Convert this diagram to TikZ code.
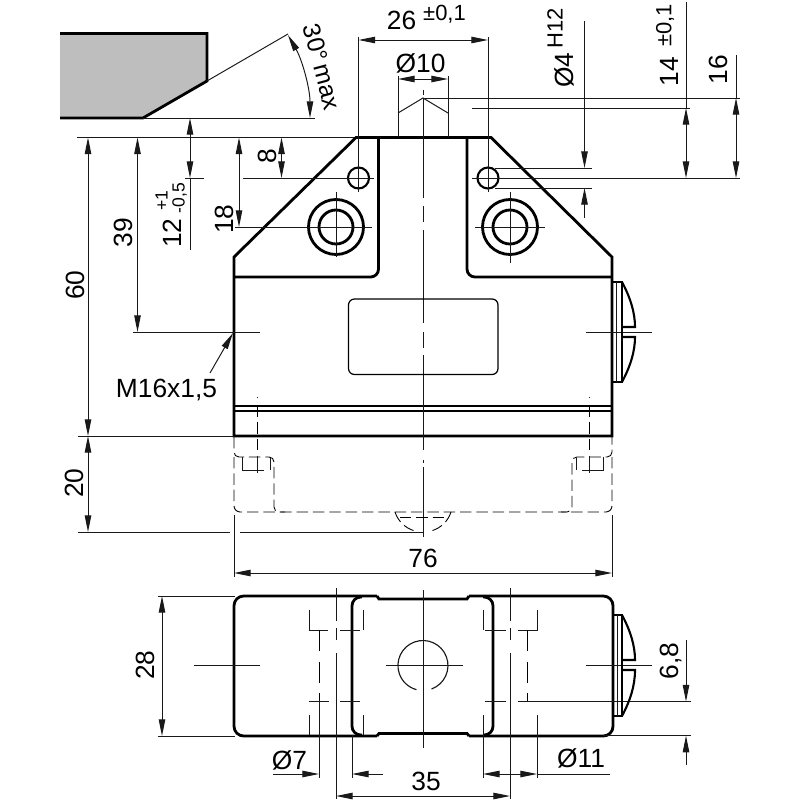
\documentclass[tikz,border=0pt]{standalone}
\usepackage{fontspec}
\setmainfont{Liberation Sans}
\usetikzlibrary{arrows.meta}
\definecolor{wedgegray}{HTML}{BEBEBE}

\begin{document}
\begin{tikzpicture}[x=0.02cm,y=-0.02cm,>={Triangle[length=9.5pt,width=3.7pt]}]
\tikzstyle{every node}+=[inner sep=0pt,font=\fontsize{15}{15}\selectfont]
\tikzstyle{heavy}=[black,line width=1.6pt]
\tikzstyle{outline}=[black,line width=1.2pt]
\tikzstyle{fine}=[black!90,line width=0.55pt]
\tikzstyle{ghost}=[black,line width=0.5pt,dash pattern=on 6.5pt off 2.8pt]
\tikzstyle{longghost}=[black,line width=0.55pt,dash pattern=on 12pt off 6pt]
\tikzstyle{small}=[font=\fontsize{12.5}{12.5}\selectfont]
\tikzstyle{tiny}=[font=\fontsize{10}{10}\selectfont]
\useasboundingbox (0,0) rectangle (800,800);
\fill [wedgegray] (60,33.5) -- (207,33.5) -- (207,81) -- (143,118) -- (60,118) -- cycle;
\draw [heavy] (60,33.5) -- (207,33.5) -- (207,81) -- (143,118) -- (60,118);
\draw [fine] (207,81) -- (288,34);
\draw [fine] (143,118) -- (315,118);
\draw [fine,<->] (310,118) arc (0:-29.8:167);
\node [rotate=-75,font=\fontsize{14}{14}\selectfont] (maxangle) at (322,67) {30°\,max};
\draw [fine] (77,137.5) -- (356,137.5);
\draw [heavy] (234,436) -- (234,257) -- (356,137.5) -- (491,137.5) -- (612,257) -- (612,436) -- cycle;
\draw [heavy,rounded corners=4.5pt] (378.5,137.5) -- (378.5,277) -- (234,277);
\draw [heavy,rounded corners=4.5pt] (467,137.5) -- (467,277) -- (612,277);
\draw [outline] (234,406) -- (612,406);
\draw [outline] (234,411) -- (612,411);
\draw [fine] (398,137) -- (398,76);
\draw [fine] (448,137) -- (448,76);
\draw [fine] (398,113) -- (423,98) -- (448,113);
\draw [fine,<->] (398,79) -- (448,79);
\node (pindia) at (420.5,63) {Ø10};
\draw [fine] (423,90) -- (423,95);
\draw [fine] (423,98) -- (423,198);
\draw [fine] (423,206) -- (423,222);
\draw [fine] (423,230) -- (423,323);
\draw [fine] (423,332) -- (423,348);
\draw [fine] (423,355) -- (423,450);
\draw [fine] (423,460) -- (423,463);
\draw [fine] (423,467) -- (423,537);
\draw [outline] (358.5,178) circle (10.5);
\draw [outline] (488,178) circle (10.5);
\draw [heavy] (336,227) circle (27.5);
\draw [heavy] (336,227) circle (17);
\draw [heavy] (510,227) circle (27.5);
\draw [heavy] (510,227) circle (17);
\draw [fine] (243,178) -- (374,178);
\draw [fine] (185,178) -- (204,178);
\draw [fine] (358.5,37) -- (358.5,192);
\draw [fine] (488,37) -- (488,192);
\draw [fine] (472,178) -- (740,178);
\draw [fine] (235,227) -- (372,227);
\draw [fine] (336,192) -- (336,257);
\draw [fine] (475,227) -- (545,227);
\draw [fine] (510,192) -- (510,263);
\draw [fine,<->] (358.5,40) -- (488,40);
\node (widthval) at (401.5,20.5) {26};
\node [small] (widthtol) at (444.5,14.5) {±0,1};
\draw [fine] (423,98) -- (740,98);
\draw [fine] (472,108) -- (690,108);
\draw [fine] (495,168) -- (592,168);
\draw [fine] (495,188) -- (592,188);
\draw [fine,->] (584.5,21) -- (584.5,168);
\draw [fine,->] (584.5,218) -- (584.5,188);
\node [rotate=90] (holedia) at (564,70) {Ø4};
\node [rotate=90,small] (holetol) at (555,28) {H12};
\draw [fine] (686,2) -- (686,108);
\draw [fine,<->] (686,108) -- (686,178);
\node [rotate=90] (pitchval) at (669,71.5) {14};
\node [rotate=90,small] (pitchtol) at (665,25.5) {±0,1};
\draw [fine] (736,55) -- (736,98);
\draw [fine,<->] (736,98) -- (736,178);
\node [rotate=90] (pinheight) at (718,69.5) {16};
\draw [fine,<->] (88,137.5) -- (88,436);
\node [rotate=90] (totalheight) at (75,285) {60};
\draw [fine] (78,436) -- (234,436);
\draw [fine,<->] (88,436) -- (88,532);
\node [rotate=90] (lowerheight) at (74,483) {20};
\draw [fine] (78,532) -- (230,532);
\draw [fine] (240,532) -- (423,532);
\draw [fine,<->] (137.5,137.5) -- (137.5,332);
\node [rotate=90] (conduit) at (123,232.5) {39};
\draw [fine] (133,332) -- (260,332);
\draw [fine] (586,332) -- (652,332);
\draw [fine,->] (190,137.5) -- (190,118);
\draw [fine,->] (190,137.5) -- (190,178);
\draw [fine] (190,178) -- (190,250);
\node [rotate=90] (rampval) at (172,233) {12};
\node [rotate=90,tiny] (rampup) at (161.5,200.5) {+1};
\node [rotate=90,tiny] (rampdown) at (179.5,198) {-0,5};
\draw [fine,<->] (239,137.5) -- (239,227);
\node [rotate=90] (mountrow) at (224,219) {18};
\draw [fine,<->] (281.5,137.5) -- (281.5,178);
\node [rotate=90] (holerow) at (267,156.5) {8};
\draw [black,line width=0.7pt,rounded corners=3.4pt] (348.5,299) rectangle (498,374.5);
\draw [fine,<-] (233,333) -- (210,373);
\node (thread) at (166.5,390) {M16x1,5};
\draw [outline] (612,282) -- (622,282) -- (622,382) -- (612,382);
\draw [fine] (616.5,282) -- (616.5,382);
\draw [outline] (622,282) .. controls (630,297) and (635,312) .. (635,327) -- (622,327);
\draw [outline] (622,382) .. controls (630,367) and (635,352) .. (635,337) -- (622,337);
\draw [ghost,rounded corners=2.8pt] (234,437) -- (234,457) -- (274,457) -- (274,512) -- (572,512) -- (572,457) -- (612,457) -- (612,437);
\draw [ghost,rounded corners=3.5pt] (234,457) -- (234,512) -- (285,512);
\draw [ghost,rounded corners=3.5pt] (612,457) -- (612,512) -- (561,512);
\draw [fine] (242.5,457) -- (242.5,470) -- (264,470);
\draw [fine] (270.5,458) -- (270.5,470);
\draw [fine] (603.5,457) -- (603.5,470) -- (582,470);
\draw [fine] (576,458) -- (576,470);
\draw [fine] (257,397) -- (257,398);
\draw [ghost] (257,406) -- (257,453);
\draw [fine] (257,456) -- (257,473);
\draw [fine] (589,397) -- (589,398);
\draw [ghost] (589,406) -- (589,453);
\draw [fine] (589,456) -- (589,473);
\draw [ghost] (395,512) arc (162:108:28.9);
\draw [ghost] (451,512) arc (18:72:28.9);
\draw [ghost] (400,517) -- (448,517);
\draw [fine] (234,515) -- (234,577);
\draw [fine] (612,515) -- (612,577);
\draw [fine,<->] (234,573) -- (612,573);
\node (lengthval) at (423,558) {76};
\draw [heavy,rounded corners=5.5pt] (377,596) -- (234,596) -- (234,736) -- (377,736);
\draw [heavy,rounded corners=5.5pt] (469,596) -- (613,596) -- (613,736) -- (469,736);
\draw [heavy] (377,596) -- (379,599) -- (467,599) -- (469,596);
\draw [heavy] (377,736) -- (379,733.5) -- (467,733.5) -- (469,736);
\draw [heavy,rounded corners=5pt] (362,597) -- (352,597) -- (352,735) -- (362,735);
\draw [heavy,rounded corners=5pt] (483,597) -- (493,597) -- (493,735) -- (483,735);
\draw [fine] (194,665.5) -- (260,665.5);
\draw [fine] (586,665.5) -- (652,665.5);
\draw [fine] (386,665.5) -- (463,665.5);
\draw [fine] (423,590) -- (423,748);
\draw [fine,line width=0.65pt] (431.5,689) arc (70:-255:25);
\draw [fine] (336,588) -- (336,621);
\draw [fine] (336,628) -- (336,640);
\draw [fine] (336,653) -- (336,799);
\draw [fine] (510,588) -- (510,621);
\draw [fine] (510,628) -- (510,640);
\draw [fine] (510,653) -- (510,799);
\draw [fine] (309,610) -- (309,630) -- (328,630);
\draw [fine] (340,630) -- (360,630);
\draw [fine] (363,610) -- (363,630);
\draw [fine] (309,701.5) -- (329,701.5);
\draw [fine] (340,701.5) -- (360,701.5);
\draw [fine] (309,715) -- (309,735);
\draw [fine] (363,715) -- (363,735);
\draw [fine] (537,610) -- (537,630) -- (518,630);
\draw [fine] (506,630) -- (485,630);
\draw [fine] (483,610) -- (483,630);
\draw [fine] (485,701.5) -- (506,701.5);
\draw [fine] (518,701.5) -- (691,701.5);
\draw [fine] (603,735.7) -- (691,735.7);
\draw [fine] (483,715) -- (483,778);
\draw [fine] (537,715) -- (537,778);
\draw [longghost] (319,630) -- (319,700);
\draw [fine] (319,700) -- (319,778);
\draw [fine] (352,735) -- (352,778);
\draw [longghost] (527,630) -- (527,701);
\draw [fine,->] (273,774) -- (319,774);
\draw [fine,->] (383,774) -- (352,774);
\node (smallbore) at (289.5,760) {Ø7};
\draw [fine,<-] (483,774) -- (510,774);
\draw [fine,->] (510,774) -- (537,774);
\draw [fine] (537,774) -- (610,774);
\node (largebore) at (581,758) {Ø11};
\draw [fine,<->] (336,796) -- (510,796);
\node (fixpitch) at (426,781) {35};
\draw [fine,->] (686,640) -- (686,701.5);
\draw [fine,->] (686,765) -- (686,735.7);
\node [rotate=90] (offsetval) at (671,661) {6,8};
\draw [fine] (158,596) -- (235,596);
\draw [fine] (158,736) -- (235,736);
\draw [fine,<->] (162,596) -- (162,736);
\node [rotate=90] (depthval) at (145,665) {28};
\draw [outline] (613,615) -- (622,615) -- (622,716) -- (613,716);
\draw [fine] (617,615) -- (617,716);
\draw [outline] (622,615) .. controls (630,630) and (635,645) .. (635,660) -- (622,660);
\draw [outline] (622,716) .. controls (630,701) and (635,686) .. (635,670) -- (622,670);
\end{tikzpicture}
\end{document}
